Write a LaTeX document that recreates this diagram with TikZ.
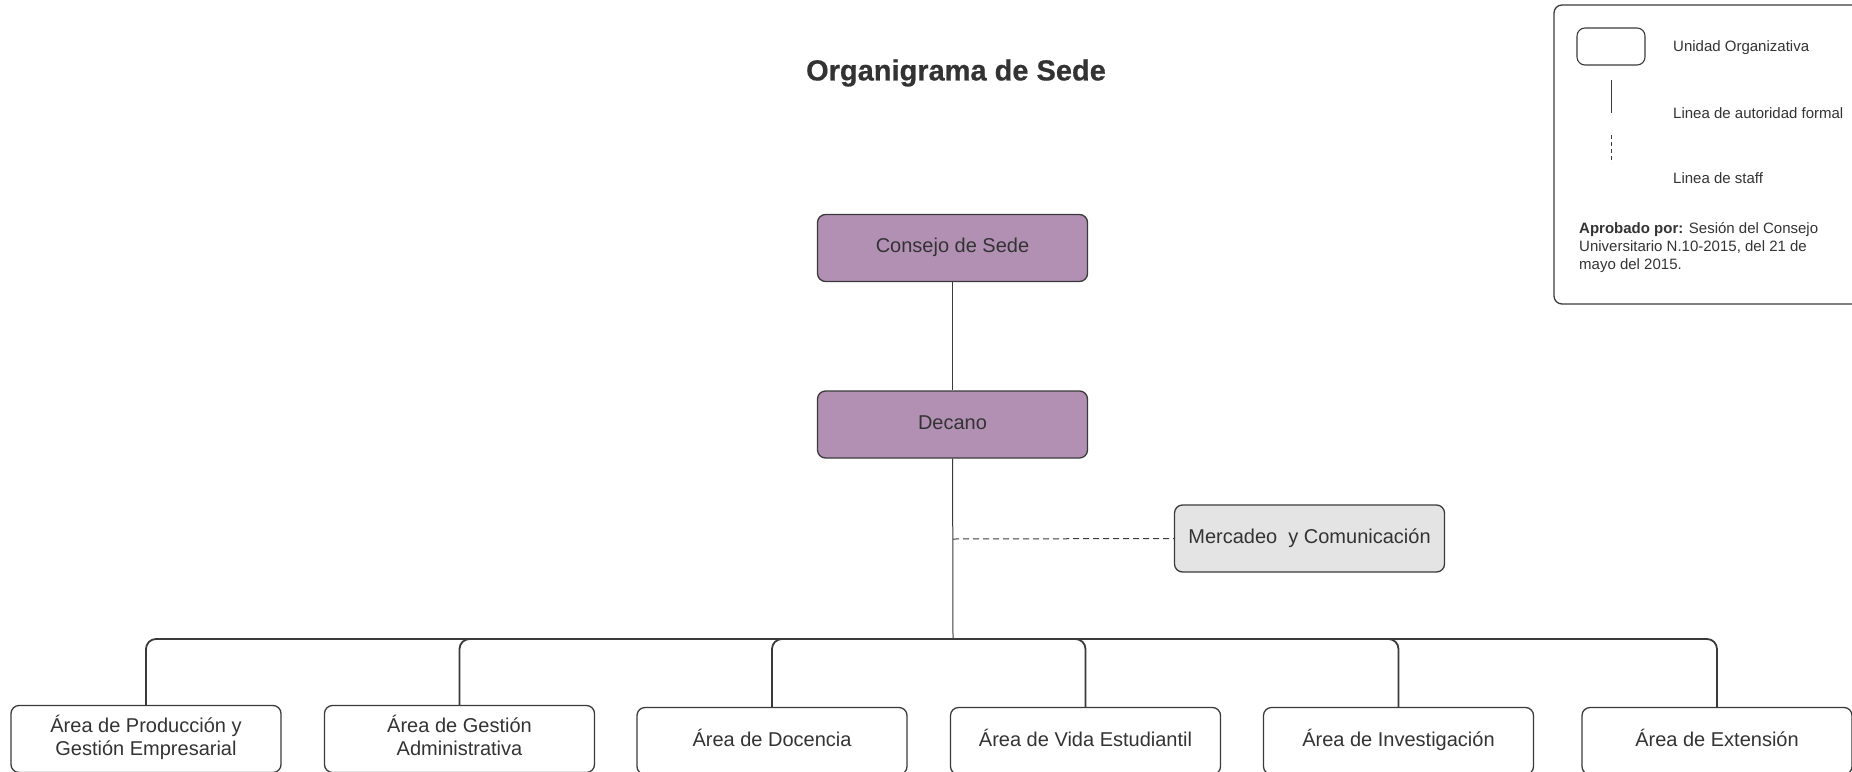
\documentclass[tikz,border=0pt]{standalone}
\usepackage{fontspec}
\setmainfont{Liberation Sans}
\newfontfamily\titulofont{Liberation Sans}[FakeBold=0.6]

\definecolor{lila}{HTML}{B290B3}
\definecolor{gris}{HTML}{E4E4E4}
\definecolor{borde}{HTML}{3A3A3A}
\definecolor{texto}{HTML}{333333}

\begin{document}
\begin{tikzpicture}[x=1pt, y=-1pt,
  unidad/.style={draw=borde, line width=1.3pt, rounded corners=8pt, minimum width=270pt, minimum height=67pt, inner sep=0pt, text=texto, align=center, font=\fontsize{20}{23}\selectfont, execute at begin node=\strut, execute at end node=\strut},
  jerarquia/.style={draw=borde, line width=1pt},
  rama/.style={draw=borde, line width=1.8pt, rounded corners=10pt},
  staff/.style={draw=borde, line width=1pt, dash pattern=on 6pt off 4pt},
  leyenda/.style={text=texto, anchor=west, inner sep=0pt, font=\fontsize{15}{18}\selectfont}]
  \useasboundingbox (0,0) rectangle (1852,771);

  % Title
  \node[text=texto, font=\titulofont\bfseries\fontsize{29}{32}\selectfont] (titulo) at (956,73) {Organigrama de Sede};

  % Top levels
  \node[unidad, fill=lila] (consejo) at (952.5,248) {Consejo de Sede};
  \node[unidad, fill=lila] (decano) at (952.5,424.5) {Decano};
  \node[unidad, fill=gris] (mercadeo) at (1309.5,538.5) {Mercadeo\ \ y Comunicación};

  % Areas
  \node[unidad] (area1) at (146,739) {Área de Producción y\\Gestión Empresarial};
  \node[unidad] (area2) at (459.5,739) {Área de Gestión\\Administrativa};
  \node[unidad] (area3) at (772,741) {Área de Docencia};
  \node[unidad] (area4) at (1085.5,741) {Área de Vida Estudiantil};
  \node[unidad] (area5) at (1398.5,741) {Área de Investigación};
  \node[unidad] (area6) at (1717,741) {Área de Extensión};

  \coordinate (staffpunto) at (953,539);
  \coordinate (nodo) at (953,639);

  % Lines
  \draw[jerarquia] (consejo) -- (decano);
  \draw[jerarquia] (decano) -- (nodo);
  \draw[staff] (staffpunto) -- (mercadeo.west);

  \draw[rama] (nodo) -| (area1.north);
  \draw[rama] (nodo) -| (area2.north);
  \draw[rama] (nodo) -| (area3.north);
  \draw[rama] (nodo) -| (area4.north);
  \draw[rama] (nodo) -| (area5.north);
  \draw[rama] (nodo) -| (area6.north);

  % Legend
  \draw[draw=borde, line width=1.3pt, rounded corners=8pt] (1554,5) rectangle (1890,304);
  \node[draw=borde, line width=1.1pt, rounded corners=8pt, minimum width=68pt, minimum height=37pt] (muestra) at (1611,46.5) {};
  \coordinate (lineaA) at (1611,80);
  \coordinate (lineaB) at (1611,113);
  \coordinate (lineaC) at (1611,135);
  \coordinate (lineaD) at (1611,163);
  \draw[draw=borde, line width=1pt] (lineaA) -- (lineaB);
  \draw[draw=borde, line width=1pt, dash pattern=on 4pt off 3pt] (lineaC) -- (lineaD);
  \node[leyenda] (txtunidad) at (1673,48) {Unidad Organizativa};
  \node[leyenda] (txtautoridad) at (1673,113) {Linea de autoridad formal};
  \node[leyenda] (txtstaff) at (1673,178) {Linea de staff};
  \node[leyenda, anchor=north west, align=left] (aprobado) at (1579,222) {\textbf{Aprobado por:} Sesión del Consejo\\Universitario N.10-2015, del 21 de\\mayo del 2015.};
\end{tikzpicture}
\end{document}
